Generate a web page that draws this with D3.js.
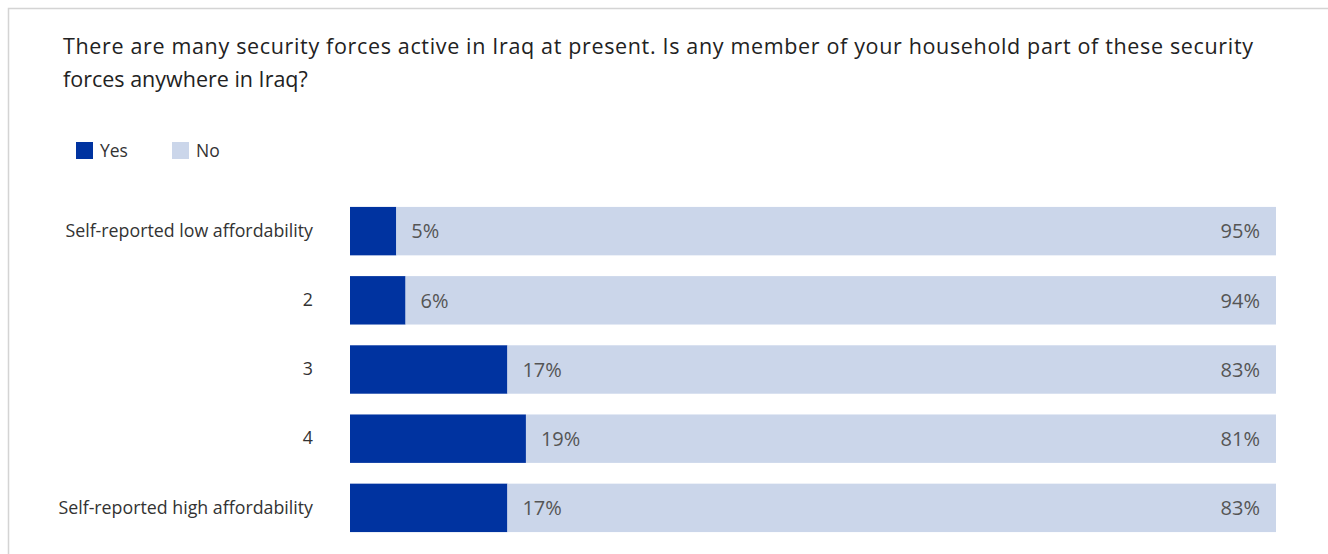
<!DOCTYPE html>
<html><head><meta charset="utf-8">
<script src="https://cdn.jsdelivr.net/npm/d3@7"></script>
<style>body{margin:0;background:#fff;font-family:"Open Sans",sans-serif}</style>
</head><body><svg id="c" width="1328" height="554"></svg>
<script>
const categories = ["Self-reported low affordability","2","3","4","Self-reported high affordability"];
const yesValues = [5,6,17,19,17];
const noValues = [95,94,83,81,83];
const seriesNames = ["Yes","No"];
const colors = ["#0033a0","#cbd6ea"];

const svg = d3.select("#c");
svg.append("rect").attr("x",8.5).attr("y",8.5).attr("width",1330).attr("height",560)
  .attr("fill","none").attr("stroke","#d4d4d4").attr("stroke-width",1.5);

const title = svg.append("text").attr("x",63).attr("fill","#222").style("font-size","21.5px");
title.append("tspan").attr("x",63).attr("y",54).attr("textLength",1190).attr("lengthAdjust","spacing").text("There are many security forces active in Iraq at present. Is any member of your household part of these security");
title.append("tspan").attr("x",63).attr("y",87).text("forces anywhere in Iraq?");

const leg = svg.append("g");
[[76,100],[172,196]].forEach((p,i)=>{
  leg.append("rect").attr("x",p[0]).attr("y",142).attr("width",17).attr("height",17).attr("fill",colors[i]);
  leg.append("text").attr("x",p[1]).attr("y",157).attr("fill","#333").style("font-size","17.5px").text(seriesNames[i]);
});

const x = d3.scaleLinear().domain([0,100]).range([350,1276]);
const y = d3.scaleBand().domain(categories).range([200,539]).paddingInner(0.3).paddingOuter(0.1);

const rows = categories.map((c,i)=>({c, yes:yesValues[i], no:noValues[i]}));
const g = svg.append("g");
rows.forEach(d=>{
  g.append("rect").attr("x",x(0)).attr("y",y(d.c)).attr("width",x(d.yes)-x(0)).attr("height",y.bandwidth()).attr("fill",colors[0]);
  g.append("rect").attr("x",x(d.yes)).attr("y",y(d.c)).attr("width",x(d.yes+d.no)-x(d.yes)).attr("height",y.bandwidth()).attr("fill",colors[1]);
  const cy = y(d.c)+y.bandwidth()/2;
  g.append("text").attr("x",x(d.yes)+15).attr("y",cy).attr("dy","0.36em").attr("fill","#555").style("font-size","20px").text(d.yes+"%");
  g.append("text").attr("x",x(d.yes+d.no)-16).attr("y",cy).attr("dy","0.36em").attr("text-anchor","end").attr("fill","#555").style("font-size","20px").text(d.no+"%");
});

const yAxis = d3.axisLeft(y).tickSize(0).tickPadding(0);
const ax = svg.append("g").attr("transform","translate(313,0)").call(yAxis);
ax.select(".domain").remove();
ax.selectAll("text").attr("fill","#333").style("font-size","17.8px").style("font-family","'Open Sans',sans-serif");
</script></body></html>
